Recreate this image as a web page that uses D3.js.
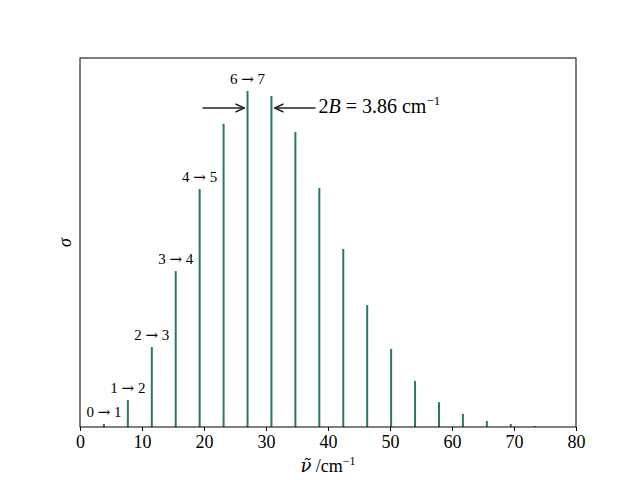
<!DOCTYPE html>
<html lang="en">
<head>
    <meta charset="UTF-8">
    <title>Rotational spectrum</title>
    <style>
        body { margin: 0; background: #fff; }
        text { font-family: "Liberation Serif", "DejaVu Serif", serif; }
        .arr { font-family: "DejaVu Serif", serif; }
    </style>
</head>
<body>
<script src="https://d3js.org/d3.v7.min.js"></script>
<script>
    // line positions: 2B(J+1), B = 1.93 cm^-1
    const J = [0, 1, 2, 3, 4, 5, 6, 7, 8, 9, 10, 11, 12, 13, 14, 15, 16, 17, 18];
    const wavenumber = [3.86, 7.72, 11.58, 15.44, 19.30, 23.16, 27.02, 30.88, 34.74, 38.60,
        42.46, 46.32, 50.18, 54.04, 57.90, 61.76, 65.62, 69.48, 73.34];
    // relative intensities
    const sigma = [0.009, 0.080, 0.238, 0.464, 0.708, 0.902, 1.000, 0.985, 0.878, 0.711,
        0.530, 0.363, 0.232, 0.137, 0.074, 0.039, 0.018, 0.009, 0.003];
    const labelled = [0, 1, 2, 3, 4, 6];
    const xTicks = [0, 10, 20, 30, 40, 50, 60, 70, 80];

    const width = 640, height = 480;
    const mLeft = 80, mRight = 576, mTop = 58, mBottom = 427;

    const svg = d3.select("body")
        .append("svg")
        .attr("width", width)
        .attr("height", height);

    const x = d3.scaleLinear().domain([0, 80]).range([mLeft, mRight]);
    const y = d3.scaleLinear().domain([0, 1.098]).range([mBottom, mTop]);

    const data = J.map((j, i) => ({j: j, nu: wavenumber[i], s: sigma[i]}));

    // spectral lines
    svg.selectAll("line.peak")
        .data(data)
        .enter()
        .append("line")
        .attr("class", "peak")
        .attr("x1", d => x(d.nu))
        .attr("x2", d => x(d.nu))
        .attr("y1", y(0))
        .attr("y2", d => y(d.s))
        .attr("stroke", "#2a766c")
        .attr("stroke-width", 2);

    // transition labels
    svg.selectAll("text.trans")
        .data(data.filter(d => labelled.includes(d.j)))
        .enter()
        .append("text")
        .attr("class", "trans")
        .attr("x", d => x(d.nu))
        .attr("y", d => y(d.s) - 7)
        .attr("text-anchor", "middle")
        .attr("font-size", "15px")
        .html(d => d.j + ' <tspan class="arr">\u2192</tspan> ' + (d.j + 1));

    // frame
    svg.append("rect")
        .attr("x", mLeft)
        .attr("y", mTop)
        .attr("width", mRight - mLeft)
        .attr("height", mBottom - mTop)
        .attr("fill", "none")
        .attr("stroke", "#000")
        .attr("stroke-width", 1);

    const xAxis = svg.append("g")
        .attr("transform", "translate(0," + mBottom + ")")
        .call(d3.axisBottom(x).tickValues(xTicks).tickSize(4).tickPadding(4).tickSizeOuter(0));
    xAxis.select(".domain").remove();
    xAxis.selectAll("text")
        .attr("font-size", "18px")
        .attr("font-family", "Liberation Serif, serif")
        .attr("fill", "#000");

    // axis titles
    svg.append("text")
        .attr("x", (mLeft + mRight) / 2)
        .attr("y", 472)
        .attr("text-anchor", "middle")
        .attr("font-size", "18px")
        .html('<tspan class="arr" font-style="italic">\u03bd\u0303</tspan> /cm<tspan dy="-7" font-size="12px">\u22121</tspan>');

    svg.append("text")
        .attr("transform", "translate(71," + ((mTop + mBottom) / 2) + ") rotate(-90)")
        .attr("text-anchor", "middle")
        .attr("font-size", "18px")
        .attr("font-style", "italic")
        .text("\u03c3");

    // 2B annotation between lines J=6 and J=7
    const ay = 108;
    const defs = svg.append("defs");
    defs.append("marker")
        .attr("id", "head")
        .attr("viewBox", "0 0 10 10")
        .attr("refX", 10)
        .attr("refY", 5)
        .attr("markerWidth", 10)
        .attr("markerHeight", 10)
        .attr("markerUnits", "userSpaceOnUse")
        .attr("orient", "auto")
        .append("path")
        .attr("d", "M1,1 L10,5 L1,9")
        .attr("fill", "none")
        .attr("stroke", "#222")
        .attr("stroke-width", 1.5);

    svg.append("line")
        .attr("x1", x(wavenumber[6]) - 45)
        .attr("x2", x(wavenumber[6]) - 3)
        .attr("y1", ay).attr("y2", ay)
        .attr("stroke", "#222")
        .attr("stroke-width", 1.5)
        .attr("marker-end", "url(#head)");
    svg.append("line")
        .attr("x1", x(wavenumber[7]) + 44)
        .attr("x2", x(wavenumber[7]) + 3)
        .attr("y1", ay).attr("y2", ay)
        .attr("stroke", "#222")
        .attr("stroke-width", 1.5)
        .attr("marker-end", "url(#head)");

    svg.append("text")
        .attr("x", x(wavenumber[7]) + 47)
        .attr("y", ay + 5)
        .attr("font-size", "20px")
        .html('2<tspan font-style="italic">B</tspan> = 3.86 cm<tspan dy="-8" font-size="13px">\u22121</tspan>');
</script>
</body>
</html>
